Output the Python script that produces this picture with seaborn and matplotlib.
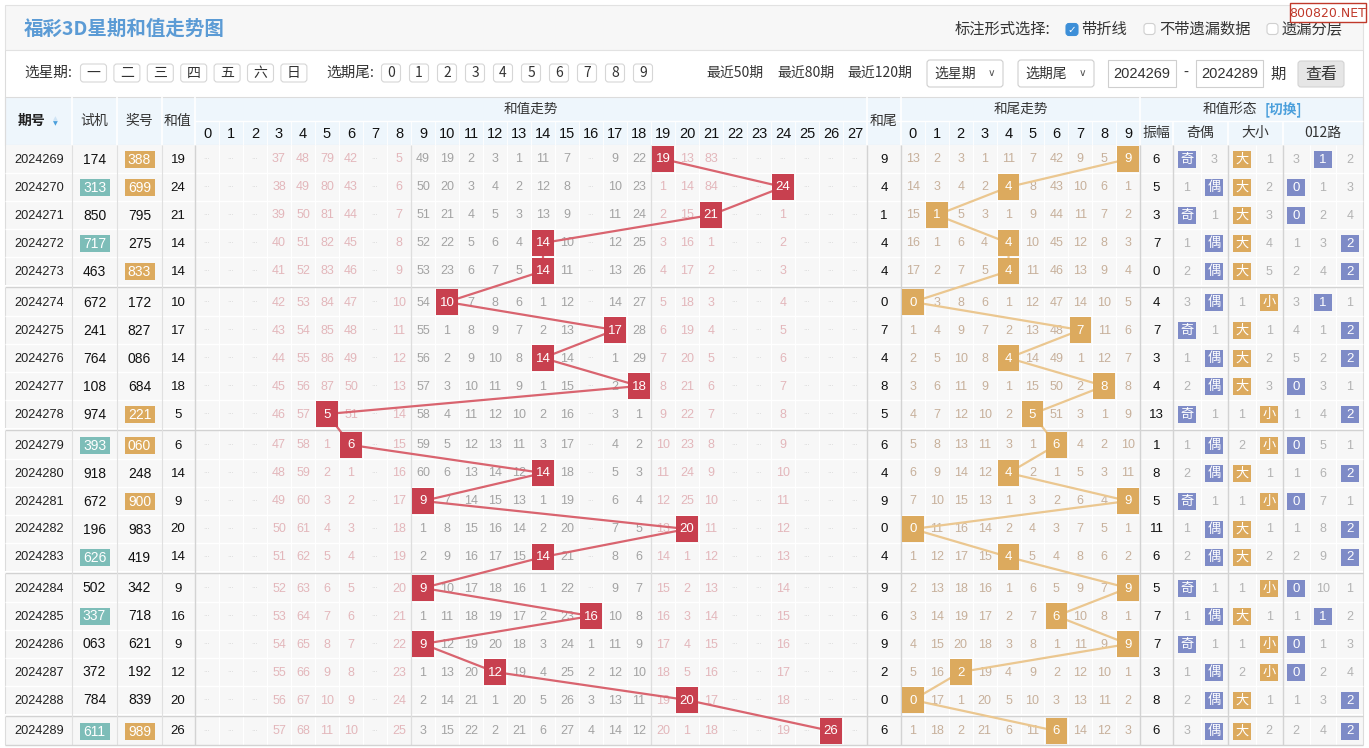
import matplotlib
matplotlib.use("Agg")
import matplotlib.pyplot as plt
from matplotlib.patches import Rectangle, FancyBboxPatch
import numpy as np
import pandas as pd
import seaborn as sns

sns.set_theme(style="white")
plt.rcParams['font.family'] = ['Noto Sans CJK SC', 'DejaVu Sans']

# ---------------------------------------------------------------- data
issues = ["2024269", "2024270", "2024271", "2024272", "2024273", "2024274", "2024275",
          "2024276", "2024277", "2024278", "2024279", "2024280", "2024281", "2024282",
          "2024283", "2024284", "2024285", "2024286", "2024287", "2024288", "2024289"]
test_numbers = ["174", "313", "850", "717", "463", "672", "241", "764", "108", "974", "393",
                "918", "672", "196", "626", "502", "337", "063", "372", "784", "611"]
draw_numbers = ["388", "699", "795", "275", "833", "172", "827", "086", "684", "221", "060",
                "248", "900", "983", "419", "342", "718", "621", "192", "839", "989"]
sum_values = [19, 24, 21, 14, 14, 10, 17, 14, 18, 5, 6, 14, 9, 20, 14, 9, 16, 9, 12, 20, 26]
tail_values = [9, 4, 1, 4, 4, 0, 7, 4, 8, 5, 6, 4, 9, 0, 4, 9, 6, 9, 2, 0, 6]
amplitude = [6, 5, 3, 7, 0, 4, 7, 3, 4, 13, 1, 8, 5, 11, 6, 5, 7, 7, 3, 8, 6]
sum_columns = [str(i) for i in range(28)]
tail_columns = [str(i) for i in range(10)]

# omission values ('.' = faint overflow mark, '*' = hit cell)
sum_miss_rows = [
    ". . . 37 48 79 42 . 5 49 19 2 3 1 11 7 . 9 22 * 13 83 . . . . . .",
    ". . . 38 49 80 43 . 6 50 20 3 4 2 12 8 . 10 23 1 14 84 . . * . . .",
    ". . . 39 50 81 44 . 7 51 21 4 5 3 13 9 . 11 24 2 15 * . . 1 . . .",
    ". . . 40 51 82 45 . 8 52 22 5 6 4 * 10 . 12 25 3 16 1 . . 2 . . .",
    ". . . 41 52 83 46 . 9 53 23 6 7 5 * 11 . 13 26 4 17 2 . . 3 . . .",
    ". . . 42 53 84 47 . 10 54 * 7 8 6 1 12 . 14 27 5 18 3 . . 4 . . .",
    ". . . 43 54 85 48 . 11 55 1 8 9 7 2 13 . * 28 6 19 4 . . 5 . . .",
    ". . . 44 55 86 49 . 12 56 2 9 10 8 * 14 . 1 29 7 20 5 . . 6 . . .",
    ". . . 45 56 87 50 . 13 57 3 10 11 9 1 15 . 2 * 8 21 6 . . 7 . . .",
    ". . . 46 57 * 51 . 14 58 4 11 12 10 2 16 . 3 1 9 22 7 . . 8 . . .",
    ". . . 47 58 1 * . 15 59 5 12 13 11 3 17 . 4 2 10 23 8 . . 9 . . .",
    ". . . 48 59 2 1 . 16 60 6 13 14 12 * 18 . 5 3 11 24 9 . . 10 . . .",
    ". . . 49 60 3 2 . 17 * 7 14 15 13 1 19 . 6 4 12 25 10 . . 11 . . .",
    ". . . 50 61 4 3 . 18 1 8 15 16 14 2 20 . 7 5 13 * 11 . . 12 . . .",
    ". . . 51 62 5 4 . 19 2 9 16 17 15 * 21 . 8 6 14 1 12 . . 13 . . .",
    ". . . 52 63 6 5 . 20 * 10 17 18 16 1 22 . 9 7 15 2 13 . . 14 . . .",
    ". . . 53 64 7 6 . 21 1 11 18 19 17 2 23 * 10 8 16 3 14 . . 15 . . .",
    ". . . 54 65 8 7 . 22 * 12 19 20 18 3 24 1 11 9 17 4 15 . . 16 . . .",
    ". . . 55 66 9 8 . 23 1 13 20 * 19 4 25 2 12 10 18 5 16 . . 17 . . .",
    ". . . 56 67 10 9 . 24 2 14 21 1 20 5 26 3 13 11 19 * 17 . . 18 . . .",
    ". . . 57 68 11 10 . 25 3 15 22 2 21 6 27 4 14 12 20 1 18 . . 19 . * .",
]
tail_miss_rows = [
    "13 2 3 1 11 7 42 9 5 *", "14 3 4 2 * 8 43 10 6 1", "15 * 5 3 1 9 44 11 7 2",
    "16 1 6 4 * 10 45 12 8 3", "17 2 7 5 * 11 46 13 9 4", "* 3 8 6 1 12 47 14 10 5",
    "1 4 9 7 2 13 48 * 11 6", "2 5 10 8 * 14 49 1 12 7", "3 6 11 9 1 15 50 2 * 8",
    "4 7 12 10 2 * 51 3 1 9", "5 8 13 11 3 1 * 4 2 10", "6 9 14 12 * 2 1 5 3 11",
    "7 10 15 13 1 3 2 6 4 *", "* 11 16 14 2 4 3 7 5 1", "1 12 17 15 * 5 4 8 6 2",
    "2 13 18 16 1 6 5 9 7 *", "3 14 19 17 2 7 * 10 8 1", "4 15 20 18 3 8 1 11 9 *",
    "5 16 * 19 4 9 2 12 10 1", "* 17 1 20 5 10 3 13 11 2", "1 18 2 21 6 11 * 14 12 3",
]
odd_even_labels = ["奇", "偶"]
odd_even_rows = ["* 3", "1 *", "* 1", "1 *", "2 *", "3 *", "* 1", "1 *", "2 *", "* 1", "1 *",
                 "2 *", "* 1", "1 *", "2 *", "* 1", "1 *", "* 1", "1 *", "2 *", "3 *"]
big_small_labels = ["大", "小"]
big_small_rows = ["* 1", "* 2", "* 3", "* 4", "* 5", "1 *", "* 1", "* 2", "* 3", "1 *", "2 *",
                  "* 1", "1 *", "* 1", "* 2", "1 *", "* 1", "1 *", "2 *", "* 1", "* 2"]
road_labels = ["0", "1", "2"]
road_rows = ["3 * 2", "* 1 3", "* 2 4", "1 3 *", "2 4 *", "3 * 1", "4 1 *", "5 2 *", "* 3 1",
             "1 4 *", "* 5 1", "1 6 *", "* 7 1", "1 8 *", "2 9 *", "* 10 1", "1 * 2", "* 1 3",
             "* 2 4", "1 3 *", "2 4 *"]
weekday_buttons = ["一", "二", "三", "四", "五", "六", "日"]
tail_buttons = ["0", "1", "2", "3", "4", "5", "6", "7", "8", "9"]
recent_links = ["最近50期", "最近80期", "最近120期"]
mark_options = ["带折线", "不带遗漏数据", "遗漏分层"]
mark_checked = [True, False, False]
title = "福彩3D星期和值走势图"

# ---------------------------------------------------------------- style / layout
W, H = 1369, 748
BODY_TOP, ROW_H, GAP = 145, 28, 3
N = len(issues)
RED, RED_LINE = "#c8404f", "#d9646f"
ORANGE, ORANGE_LINE = "#dcaa5e", "#ebc790"
TEAL, PURPLE = "#7dbdb8", "#7e8bc7"
PINK_TXT, GREY_TXT, TAN_TXT, FORM_TXT = "#e3b7bb", "#a3a3a3", "#c7b09b", "#b3b3b3"
HEAD_BG, BODY_BG = "#eef6fc", "#f7f7f7"
NUMF = ["Liberation Sans", "DejaVu Sans"]

SUM_X0, SUM_X1 = 195, 867
TAIL_X0, TAIL_X1 = 901, 1140
X_ISSUE, X_TEST, X_DRAW, X_SUM = 39.5, 94.5, 139.5, 178
X_TAILCOL, X_AMP = 884, 1156.5
OE_X = [1186.75, 1214.25]
BS_X = [1241.75, 1269.25]
RD_X = [1296.3, 1323.0, 1349.7]


def row_top(r):
    return BODY_TOP + ROW_H * r + GAP * (r // 5)


row_tops = np.array([row_top(r) for r in range(N)], dtype=float)
row_mid = row_tops + ROW_H / 2
BODY_BOTTOM = row_tops[-1] + ROW_H

fig = plt.figure(figsize=(W / 100, H / 100), dpi=100, facecolor="white")
ax = fig.add_axes([0, 0, 1, 1])
ax.set_xlim(0, W)
ax.set_ylim(H, 0)
ax.axis("off")


def rect(x, y, w, h, fc, ec="none", lw=0.8, z=1, rounded=False, target=None):
    target = target or ax
    if rounded:
        p = FancyBboxPatch((x, y), w, h, boxstyle="round,pad=0,rounding_size=3",
                           fc=fc, ec=ec, lw=lw, zorder=z)
    else:
        p = Rectangle((x, y), w, h, fc=fc, ec=ec, lw=lw, zorder=z)
    target.add_patch(p)


def txt(x, y, s, size=10, color="#333333", ha="center", va="center", weight="normal",
        family=None, z=5, target=None):
    target = target or ax
    kw = {}
    if family is not None:
        kw["family"] = family
    target.text(x, y, s, fontsize=size, color=color, ha=ha, va=va, weight=weight,
                zorder=z, **kw)


def hline(y, x0, x1, color, lw=0.8, z=2):
    ax.plot([x0, x1], [y, y], color=color, lw=lw, zorder=z, solid_capstyle="butt")


def vline(x, y0, y1, color, lw=0.8, z=2):
    ax.plot([x, x], [y0, y1], color=color, lw=lw, zorder=z, solid_capstyle="butt")


# ---------------------------------------------------------------- title bar
rect(5, 5, 1358, 45, "#f7f7f7", "#e2e2e2")
txt(24, 29, title, 14, "#5b9bd5", ha="left", weight="bold")
txt(955, 29, "标注形式选择:", 11, "#333333", ha="left")
opt_box_x = [1066, 1144, 1267]
for bx, label, chk in zip(opt_box_x, mark_options, mark_checked):
    if chk:
        rect(bx, 23.5, 12, 12, "#3d8fd8", "#3d8fd8", z=3, rounded=True)
        txt(bx + 6, 29.5, "✓", 7.5, "white", family=["DejaVu Sans"], weight="bold", z=6)
    else:
        rect(bx, 23.5, 11, 11, "white", "#d0d0d0", z=3, rounded=True)
    txt(bx + 15, 29, label, 11, "#333333", ha="left")
rect(1290, 3, 76, 19, "white", "#c0392b", lw=1, z=7)
txt(1328, 13, "800820.NET", 9, "#c0392b", family=["DejaVu Sans"], z=8)

# ---------------------------------------------------------------- filter row
vline(5, 50, BODY_BOTTOM, "#dcdcdc")
vline(1363, 50, BODY_BOTTOM, "#dcdcdc")
txt(24, 73, "选星期:", 10.5, ha="left")
for i, lab in enumerate(weekday_buttons):
    cx = 93.5 + 33.4 * i
    rect(cx - 13, 64, 26, 18, "white", "#d6d6d6", z=3, rounded=True)
    txt(cx, 73, lab, 10, "#333333", z=4)
txt(326, 73, "选期尾:", 10.5, ha="left")
for i, lab in enumerate(tail_buttons):
    cx = 391 + 28 * i
    rect(cx - 9.5, 64, 19, 18, "white", "#d6d6d6", z=3, rounded=True)
    txt(cx, 73, lab, 10, "#333333", z=4)
for cx, lab in zip([735, 805.5, 880], recent_links):
    txt(cx, 73, lab, 10, "#333333")
for x0, lab in [(927, "选星期"), (1018, "选期尾")]:
    rect(x0, 60, 76, 27, "white", "#cfcfcf", z=3, rounded=True)
    txt(x0 + 28, 73.5, lab, 10, "#333333", z=4)
    txt(x0 + 64, 73, "∨", 7.5, "#555555", family=["DejaVu Sans"], z=4)
for x0, w, lab in [(1108, 68, issues[0]), (1196, 67, issues[-1])]:
    rect(x0, 60, w, 27, "white", "#cfcfcf", z=3)
    txt(x0 + w / 2, 73.5, lab, 10.5, "#333333", family=NUMF, z=4)
txt(1186, 73, "-", 10.5, "#333333")
txt(1278, 74, "期", 11, "#333333")
rect(1298, 61, 46, 26, "#e6e6e6", "#d3d3d3", z=3, rounded=True)
txt(1321, 74, "查看", 11.5, "#333333", z=4)

# ---------------------------------------------------------------- header
rect(5, 97, 1358, 48, HEAD_BG, "#dcdcdc", lw=0.8)
sum_w = (SUM_X1 - SUM_X0) / len(sum_columns)
tail_w = (TAIL_X1 - TAIL_X0) / len(tail_columns)
for x in [72, 117, 162, 194.5, SUM_X1, TAIL_X0, TAIL_X1]:
    vline(x, 97, 145, "white", lw=1.2)
for x in [1173, 1228, 1283]:
    vline(x, 121, 145, "white", lw=1.2)
hline(121, 194.5, 1363, "white", lw=1.0)
for i in range(1, len(sum_columns)):
    vline(SUM_X0 + i * sum_w, 121, 145, "white", lw=0.6)
for i in range(1, len(tail_columns)):
    vline(TAIL_X0 + i * tail_w, 121, 145, "white", lw=0.6)
txt(32, 121, "期号", 10, "#222222", weight="bold")
txt(55, 118.5, "▲", 4.5, "#cfe4f5", family=["DejaVu Sans"])
txt(55, 123.5, "▼", 4.5, "#4a9fdc", family=["DejaVu Sans"])
txt(X_TEST, 121, "试机", 10, "#333333")
txt(X_DRAW, 121, "奖号", 10, "#333333")
txt(X_SUM, 121, "和值", 10, "#333333")
txt((SUM_X0 + SUM_X1) / 2, 109, "和值走势", 9.8, "#333333")
for i, lab in enumerate(sum_columns):
    txt(SUM_X0 + (i + 0.5) * sum_w, 133.5, lab, 10.5, "#111111", family=NUMF)
txt(X_TAILCOL, 121, "和尾", 10, "#333333")
txt((TAIL_X0 + TAIL_X1) / 2, 109, "和尾走势", 9.8, "#333333")
for i, lab in enumerate(tail_columns):
    txt(TAIL_X0 + (i + 0.5) * tail_w, 133.5, lab, 10.5, "#111111", family=NUMF)
txt(1203, 109, "和值形态", 9.8, "#333333", ha="left")
txt(1265, 109, "[切换]", 9.8, "#4a9fdc", ha="left", weight="bold")
txt(X_AMP, 133, "振幅", 10, "#333333")
txt(sum(OE_X) / 2, 133, "奇偶", 10, "#333333")
txt(sum(BS_X) / 2, 133, "大小", 10, "#333333")
txt(RD_X[1], 133, "012路", 10, "#333333")

# ---------------------------------------------------------------- body grid
rect(5, BODY_TOP, 1358, BODY_BOTTOM - BODY_TOP, BODY_BG)
for r in range(1, N):
    if r % 5 == 0:
        rect(5, row_tops[r] - GAP, 1358, GAP, "white", z=2)
        hline(row_tops[r] - GAP / 2, 5, 1363, "#d2d2d2", lw=1.0, z=3)
    else:
        hline(row_tops[r], 5, 1363, "white", lw=1.0)
for i in range(1, len(sum_columns)):
    vline(SUM_X0 + i * sum_w, BODY_TOP, BODY_BOTTOM, "white", lw=0.8)
for i in range(1, len(tail_columns)):
    vline(TAIL_X0 + i * tail_w, BODY_TOP, BODY_BOTTOM, "white", lw=0.8)
for x in [1186.75 + 13.75, 1241.75 + 13.75, 1296.3 + 13.35, 1323 + 13.35]:
    vline(x, BODY_TOP, BODY_BOTTOM, "white", lw=0.8)
for x in [72, 117, 162]:
    vline(x, BODY_TOP, BODY_BOTTOM, "#e0e0e0", lw=0.8, z=3)
for x in [SUM_X0 + 9 * sum_w, SUM_X0 + 19 * sum_w]:
    vline(x, BODY_TOP, BODY_BOTTOM, "#dedede", lw=0.9, z=3)
for x in [194.5, SUM_X1, TAIL_X0, TAIL_X1, 1173, 1228, 1283]:
    vline(x, BODY_TOP, BODY_BOTTOM, "#d3d3d3", lw=1.0, z=3)
hline(BODY_BOTTOM, 5, 1363, "#d3d3d3", lw=1.0, z=3)

# ---------------------------------------------------------------- left columns
for r in range(N):
    y = row_mid[r] + 0.5
    txt(X_ISSUE, y, issues[r], 9.2, "#222222", family=NUMF)
    for xc, num, col in [(X_TEST, test_numbers[r], TEAL), (X_DRAW, draw_numbers[r], ORANGE)]:
        if len(set(num)) < 3:
            rect(xc - 15, row_mid[r] - 8.5, 30, 17, col, z=4)
            txt(xc, y, num, 10, "white", family=NUMF, z=6)
        else:
            txt(xc, y, num, 10, "#111111", family=NUMF)
    txt(X_SUM, y, str(sum_values[r]), 9.5, "#111111", family=NUMF)
    txt(X_TAILCOL, y, str(tail_values[r]), 9.5, "#111111", family=NUMF)
    txt(X_AMP, y, str(amplitude[r]), 9.5, "#111111", family=NUMF)

# ---------------------------------------------------------------- form columns
def form_cells(rows, xs, labels, color):
    for r, row in enumerate(rows):
        y = row_mid[r] + 0.5
        for xc, tok, lab in zip(xs, row.split(), labels):
            if tok == "*":
                rect(xc - 9, row_mid[r] - 8.5, 18, 17, color, z=4)
                txt(xc, y, lab, 9.5, "white", z=6,
                    family=NUMF if lab.isdigit() else None)
            else:
                txt(xc, y, tok, 9, FORM_TXT, family=NUMF)


form_cells(odd_even_rows, OE_X, odd_even_labels, PURPLE)
form_cells(big_small_rows, BS_X, big_small_labels, ORANGE)
form_cells(road_rows, RD_X, road_labels, PURPLE)

# ---------------------------------------------------------------- trend panels
def trend_panel(x0, x1, ncols, miss_rows, hits, color, line_color, txt_color_fn):
    a = fig.add_axes([x0 / W, 1 - BODY_BOTTOM / H, (x1 - x0) / W, (BODY_BOTTOM - BODY_TOP) / H])
    df = pd.DataFrame({"col": hits, "y": row_mid})
    sns.lineplot(data=df, x="col", y="y", sort=False, estimator=None, ax=a,
                 color=line_color, lw=1.6, zorder=2, legend=False)
    cw = (x1 - x0) / ncols
    a.bar(hits, ROW_H - 1.2, bottom=row_tops + 0.6, width=(cw - 2.4) / cw,
          color=color, zorder=3, linewidth=0)
    for r, row in enumerate(miss_rows):
        toks = row.split()
        for c, tok in enumerate(toks):
            y = row_mid[r] + 0.5
            if tok == "*":
                a.text(c, y, str(hits[r]), fontsize=9.5, color="white", ha="center",
                       va="center", family=NUMF, zorder=4)
            elif tok == ".":
                a.text(c, y, "···", fontsize=5, color="#d6d6d6", ha="center",
                       va="center", family=["DejaVu Sans"], zorder=1)
            else:
                a.text(c, y, tok, fontsize=9, color=txt_color_fn(c), ha="center",
                       va="center", family=NUMF, zorder=1)
    a.set_xlim(-0.5, ncols - 0.5)
    a.set_ylim(BODY_BOTTOM, BODY_TOP)
    a.axis("off")
    return a


trend_panel(SUM_X0, SUM_X1, len(sum_columns), sum_miss_rows, sum_values, RED, RED_LINE,
            lambda c: PINK_TXT if (c <= 8 or c >= 19) else GREY_TXT)
trend_panel(TAIL_X0, TAIL_X1, len(tail_columns), tail_miss_rows, tail_values, ORANGE,
            ORANGE_LINE, lambda c: TAN_TXT)

fig.savefig("out.png", dpi=100, facecolor="white")
